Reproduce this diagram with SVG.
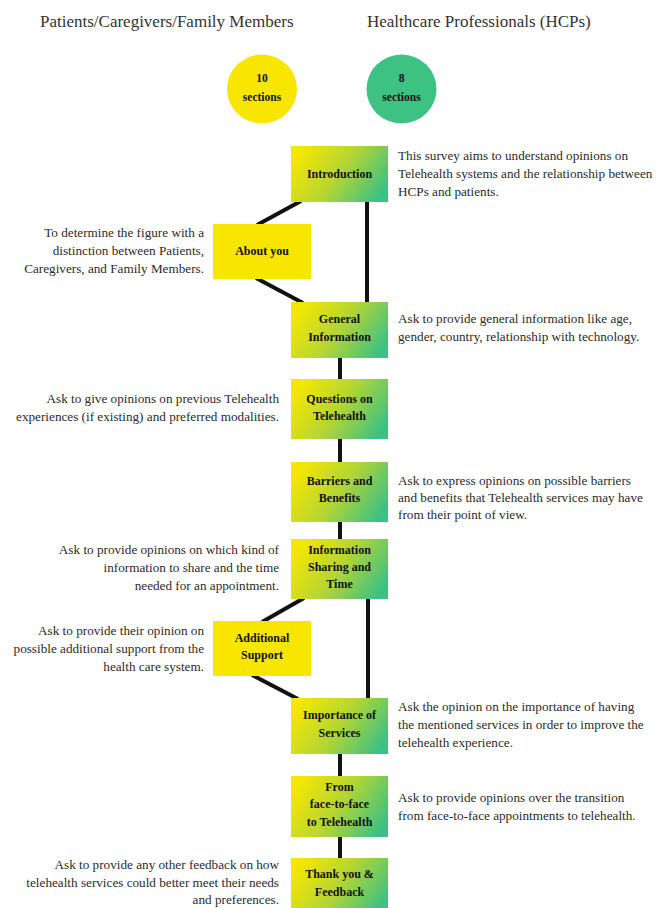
<svg xmlns="http://www.w3.org/2000/svg" width="659" height="908" viewBox="0 0 659 908">
<defs>
<linearGradient id="grad" x1="0" y1="0.3" x2="1" y2="0.7">
<stop offset="0" stop-color="#f6e702"/>
<stop offset="0.5" stop-color="#b3d534"/>
<stop offset="1" stop-color="#3cc184"/>
</linearGradient>
<style>
.title{font-family:"Liberation Serif",serif;font-size:17px;fill:#333}
.desc{font-family:"Liberation Serif",serif;font-size:13.2px;fill:#2b2b2b}
.r{text-anchor:end}
.lbl{font-family:"Liberation Serif",serif;font-size:12px;font-weight:bold;fill:#111;text-anchor:middle}
.clbl{font-family:"Liberation Serif",serif;font-size:11.5px;font-weight:bold;fill:#111;text-anchor:middle}
.g{fill:url(#grad)}
.y{fill:#f8e500}
.conn line{stroke:#111;stroke-width:4}
</style>
</defs>
<rect width="659" height="908" fill="#ffffff"/>
<text class="title" x="40" y="27">Patients/Caregivers/Family Members</text>
<text class="title" x="367" y="27">Healthcare Professionals (HCPs)</text>
<g id="circle-patients"><ellipse cx="262" cy="89" rx="35" ry="34.5" fill="#f8e500"/><text class="clbl" x="262" y="82">10</text><text class="clbl" x="262" y="101">sections</text></g>
<g id="circle-hcps"><ellipse cx="401.5" cy="89" rx="35" ry="34.5" fill="#3ec283"/><text class="clbl" x="401.5" y="82">8</text><text class="clbl" x="401.5" y="101">sections</text></g>
<g class="conn" id="connectors">
<line x1="301" y1="201" x2="257" y2="225"/>
<line x1="256" y1="278" x2="303" y2="303"/>
<line x1="367" y1="202" x2="367" y2="302"/>
<line x1="340" y1="358" x2="340" y2="379"/>
<line x1="340" y1="439" x2="340" y2="462"/>
<line x1="340" y1="522" x2="340" y2="539"/>
<line x1="304" y1="598" x2="262" y2="622"/>
<line x1="252" y1="675" x2="298" y2="699"/>
<line x1="368" y1="599" x2="368" y2="698"/>
<line x1="340" y1="754" x2="340" y2="776"/>
<line x1="340" y1="837" x2="340" y2="858"/>
</g>
<g id="introduction"><rect class="g" x="291" y="146" width="97" height="56"/><text class="lbl" x="339.5" y="178">Introduction</text>
<text class="desc" x="398" y="160">This survey aims to understand opinions on</text><text class="desc" x="398" y="178">Telehealth systems and the relationship between</text><text class="desc" x="398" y="196">HCPs and patients.</text></g>
<g id="about-you"><rect class="y" x="213" y="224" width="98" height="55"/><text class="lbl" x="262" y="255">About you</text>
<text class="desc r" x="204" y="237">To determine the figure with a</text><text class="desc r" x="204" y="255">distinction between Patients,</text><text class="desc r" x="204" y="273">Caregivers, and Family Members.</text></g>
<g id="general-information"><rect class="g" x="291" y="302" width="97" height="56"/><text class="lbl" x="339.5" y="323">General</text><text class="lbl" x="339.5" y="341">Information</text>
<text class="desc" x="398" y="323">Ask to provide general information like age,</text><text class="desc" x="398" y="341">gender, country, relationship with technology.</text></g>
<g id="questions-on-telehealth"><rect class="g" x="291" y="379" width="97" height="60"/><text class="lbl" x="339.5" y="403">Questions on</text><text class="lbl" x="339.5" y="420">Telehealth</text>
<text class="desc r" x="279" y="403">Ask to give opinions on previous Telehealth</text><text class="desc r" x="279" y="421">experiences (if existing) and preferred modalities.</text></g>
<g id="barriers-and-benefits"><rect class="g" x="291" y="462" width="97" height="60"/><text class="lbl" x="339.5" y="485">Barriers and</text><text class="lbl" x="339.5" y="502">Benefits</text>
<text class="desc" x="398" y="485">Ask to express opinions on possible barriers</text><text class="desc" x="398" y="502">and benefits that Telehealth services may have</text><text class="desc" x="398" y="519">from their point of view.</text></g>
<g id="information-sharing"><rect class="g" x="291" y="539" width="97" height="60"/><text class="lbl" x="339.5" y="554">Information</text><text class="lbl" x="339.5" y="571">Sharing and</text><text class="lbl" x="339.5" y="588">Time</text>
<text class="desc r" x="279" y="554">Ask to provide opinions on which kind of</text><text class="desc r" x="279" y="572">information to share and the time</text><text class="desc r" x="279" y="590">needed for an appointment.</text></g>
<g id="additional-support"><rect class="y" x="213" y="621" width="98" height="55"/><text class="lbl" x="262" y="642">Additional</text><text class="lbl" x="262" y="659">Support</text>
<text class="desc r" x="204" y="635">Ask to provide their opinion on</text><text class="desc r" x="204" y="653">possible additional support from the</text><text class="desc r" x="204" y="671">health care system.</text></g>
<g id="importance-of-services"><rect class="g" x="291" y="698" width="97" height="56"/><text class="lbl" x="339.5" y="719">Importance of</text><text class="lbl" x="339.5" y="737">Services</text>
<text class="desc" x="398" y="711">Ask the opinion on the importance of having</text><text class="desc" x="398" y="729">the mentioned services in order to improve the</text><text class="desc" x="398" y="747">telehealth experience.</text></g>
<g id="face-to-face"><rect class="g" x="291" y="776" width="97" height="61"/><text class="lbl" x="339.5" y="791">From</text><text class="lbl" x="339.5" y="808">face-to-face</text><text class="lbl" x="339.5" y="826">to Telehealth</text>
<text class="desc" x="398" y="802">Ask to provide opinions over the transition</text><text class="desc" x="398" y="820">from face-to-face appointments to telehealth.</text></g>
<g id="thank-you"><rect class="g" x="291" y="858" width="97" height="56"/><text class="lbl" x="339.5" y="878">Thank you &amp;</text><text class="lbl" x="339.5" y="896">Feedback</text>
<text class="desc r" x="279" y="869">Ask to provide any other feedback on how</text><text class="desc r" x="279" y="887">telehealth services could better meet their needs</text><text class="desc r" x="279" y="904">and preferences.</text></g>
</svg>
